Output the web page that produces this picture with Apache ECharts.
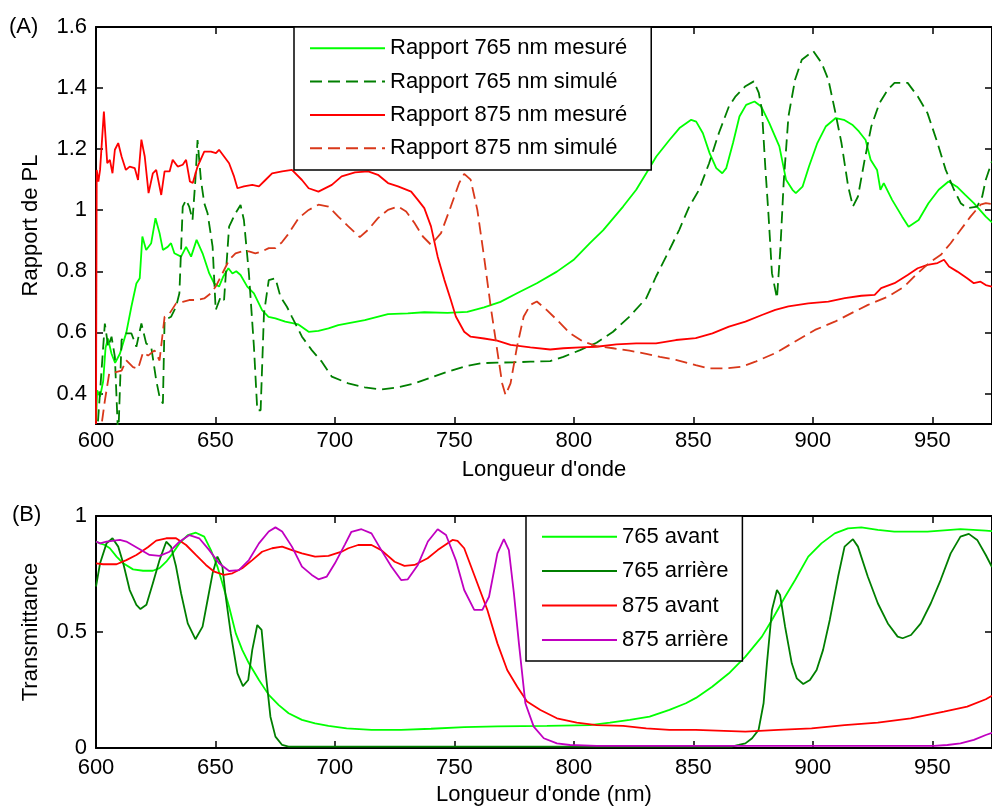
<!DOCTYPE html>
<html><head><meta charset="utf-8">
<script src="https://cdn.jsdelivr.net/npm/echarts@6/dist/echarts.min.js"></script>
<style>html,body{margin:0;padding:0;background:#fff}#c{width:992px;height:810px}</style>
</head><body><div id="c"></div>
<script>
// ---- Tick values ----
const xTicks = [600, 650, 700, 750, 800, 850, 900, 950];
const yTicksA = [0.4, 0.6, 0.8, 1.0, 1.2, 1.4, 1.6];
const yTicksB = [0, 0.5, 1];

// ---- Panel A : rapport de PL  [wavelength nm, value] ----
const r765mes = [[600,0.31],[600.5,0.41],[601.7,0.39],[603,0.44],[604,0.55],[605,0.58],[606.5,0.53],[608,0.5],[610,0.53],[612.7,0.6],[614.8,0.684],[616.9,0.76],[618.3,0.777],[619.4,0.914],[621,0.87],[623.1,0.892],[624.9,0.974],[626.6,0.925],[628,0.87],[630,0.88],[631.4,0.892],[632.8,0.859],[635.6,0.848],[637.7,0.88],[639.8,0.848],[642.1,0.903],[644.6,0.859],[647.4,0.793],[649.5,0.76],[651.5,0.75],[653.2,0.782],[655.4,0.81],[657.1,0.793],[658.7,0.8],[660.5,0.788],[663.3,0.75],[666.1,0.728],[669.5,0.673],[672.2,0.651],[675.1,0.646],[679.2,0.635],[684.7,0.626],[689,0.602],[693.1,0.605],[697.3,0.613],[701.4,0.624],[712.5,0.64],[722.2,0.66],[730.5,0.662],[737.4,0.666],[747.1,0.664],[755.4,0.667],[762.4,0.682],[769.3,0.7],[776.2,0.728],[784.5,0.761],[792.9,0.799],[799.8,0.837],[806.7,0.892],[812.3,0.935],[820.6,1.012],[826.1,1.067],[830.3,1.121],[834.5,1.176],[840,1.23],[844.2,1.269],[849.1,1.296],[851.2,1.29],[854,1.252],[856.8,1.187],[859.6,1.138],[862.1,1.121],[863.8,1.138],[866.6,1.22],[869.3,1.307],[872.1,1.345],[875.6,1.356],[878.4,1.34],[881.8,1.285],[886,1.209],[888.8,1.1],[891.5,1.067],[892.9,1.056],[895.7,1.077],[898.4,1.143],[901.9,1.22],[905.4,1.274],[909.6,1.302],[913,1.296],[916.5,1.28],[919.3,1.258],[922.1,1.23],[924.2,1.165],[926.9,1.132],[928.3,1.067],[929.7,1.089],[933.2,1.034],[937.4,0.979],[940.1,0.946],[944.3,0.968],[948.4,1.023],[952.7,1.067],[956.8,1.094],[960.3,1.077],[963.8,1.05],[967.4,1.023],[972.4,0.979],[975,0.96]];

const r765sim = [[600.3,0.25],[603.7,0.629],[605.1,0.553],[606.5,0.586],[607.9,0.52],[609.3,0.25],[610.7,0.575],[612.7,0.597],[614.8,0.597],[616.9,0.553],[619,0.629],[621,0.564],[623.1,0.553],[625.2,0.443],[626.6,0.389],[628,0.367],[628.7,0.64],[631.4,0.651],[633.5,0.684],[634.9,0.728],[636.3,1.012],[637.7,1.034],[639,1.012],[640.4,0.968],[641.6,1.1],[642.5,1.23],[643.9,1.1],[645.3,1.023],[646.7,0.99],[648.8,0.881],[650.1,0.673],[652.2,0.717],[653.6,0.706],[655.7,0.946],[657,0.968],[658.4,0.99],[660.5,1.017],[661.9,0.968],[664,0.793],[666.1,0.553],[667.5,0.345],[668.9,0.345],[670.3,0.662],[672.3,0.771],[675.1,0.777],[677.2,0.717],[679.9,0.684],[682,0.651],[686.2,0.586],[690.3,0.542],[694.5,0.504],[698.7,0.455],[705.6,0.433],[712.5,0.42],[719.4,0.413],[726.4,0.42],[733.3,0.433],[740.2,0.452],[747.1,0.471],[754.1,0.488],[761,0.499],[767.9,0.501],[774.9,0.502],[781.8,0.504],[790.1,0.506],[795.6,0.52],[802.6,0.542],[809.5,0.566],[816.4,0.602],[823.3,0.652],[830.3,0.712],[834.4,0.783],[840,0.87],[844.1,0.936],[848.3,1.012],[852.4,1.067],[856.6,1.154],[860.7,1.253],[864.9,1.34],[867.7,1.373],[871.8,1.406],[875.3,1.422],[877.4,1.384],[878.7,1.329],[880.1,1.144],[881.5,0.98],[882.9,0.794],[885,0.712],[886.4,0.87],[887.8,1.089],[889.8,1.307],[892.6,1.428],[895.4,1.493],[900.2,1.521],[903.7,1.482],[906.5,1.428],[909.2,1.329],[912,1.22],[914.8,1.078],[916.8,1.012],[918.9,1.045],[921.7,1.165],[924.5,1.275],[927.9,1.351],[931.4,1.395],[934.2,1.417],[939.7,1.417],[943.9,1.373],[948,1.318],[952.2,1.22],[955.6,1.133],[959.1,1.067],[961.9,1.023],[964.6,1.007],[968.8,1.012],[970.9,1.045],[972.4,1.1],[975,1.16]];

const r875mes = [[600,0.3],[600.3,1.132],[601,1.094],[601.7,1.132],[603.3,1.323],[604.7,1.154],[605.8,1.165],[606.9,1.121],[607.9,1.198],[609.3,1.22],[610.7,1.176],[612.5,1.132],[614.1,1.143],[616.2,1.138],[617.6,1.099],[619,1.231],[620.4,1.176],[622,1.056],[623.8,1.121],[625.2,1.132],[627.3,1.05],[628.7,1.127],[630.8,1.127],[632.1,1.165],[634.2,1.143],[636.3,1.149],[637.7,1.165],[639.3,1.094],[640.5,1.089],[642.5,1.143],[645.3,1.192],[648.1,1.192],[650.2,1.187],[651.5,1.198],[653.6,1.176],[655.7,1.154],[657.8,1.11],[659.2,1.072],[661.9,1.078],[665.4,1.083],[668.2,1.078],[670.9,1.099],[673.7,1.121],[677.9,1.127],[682,1.132],[686.2,1.099],[689,1.072],[693.1,1.061],[698.7,1.083],[702.8,1.111],[708.4,1.124],[713.9,1.127],[718,1.116],[722.2,1.089],[726.4,1.078],[731.9,1.061],[734.7,1.034],[737.4,1.007],[740.2,0.947],[743,0.848],[745.8,0.772],[748.5,0.706],[750.6,0.652],[754.1,0.602],[756.8,0.586],[762.4,0.58],[767.9,0.573],[773.5,0.559],[781.8,0.551],[790.1,0.544],[795.6,0.548],[802.6,0.551],[809.5,0.553],[817.8,0.561],[826.1,0.564],[834.4,0.564],[842.7,0.575],[851,0.581],[858,0.597],[864.9,0.619],[871.8,0.635],[878.7,0.657],[884.3,0.674],[889.8,0.685],[898.1,0.695],[906.5,0.701],[913.4,0.712],[920.3,0.72],[925.9,0.723],[928.6,0.745],[934.2,0.761],[939.7,0.788],[943.9,0.81],[948,0.821],[952.2,0.827],[954.9,0.838],[957,0.816],[960.5,0.799],[964.6,0.777],[967.4,0.761],[970.2,0.766],[972.4,0.755],[975,0.75]];

const r875sim = [[601.5,0.25],[603.7,0.376],[605.5,0.464],[608.3,0.47],[610.7,0.475],[612.7,0.508],[615.5,0.486],[617.6,0.481],[619.7,0.535],[621.8,0.524],[624.5,0.541],[626.6,0.508],[628.7,0.651],[630.8,0.662],[633.5,0.695],[636.3,0.7],[639,0.706],[641.8,0.706],[645.3,0.711],[648.1,0.728],[650.1,0.75],[652.9,0.793],[655.7,0.837],[658.4,0.859],[661.2,0.865],[664,0.865],[666.7,0.859],[669.5,0.865],[672.3,0.876],[675.1,0.876],[677.8,0.895],[680.3,0.92],[684.8,0.974],[689,1.001],[693.1,1.018],[697.3,1.012],[701.4,0.979],[705.6,0.947],[710.4,0.912],[713.9,0.936],[718,0.974],[722.2,1.001],[726.4,1.012],[729.8,0.996],[733.3,0.958],[736.8,0.914],[740.2,0.887],[744.4,0.925],[748.5,1.012],[752,1.089],[754.1,1.119],[756.8,1.1],[759.6,1.001],[762.4,0.848],[765.2,0.684],[767.9,0.542],[770,0.433],[771.4,0.395],[773.5,0.433],[776.2,0.553],[779,0.652],[781.8,0.69],[784.5,0.701],[788.7,0.673],[792.9,0.641],[798.4,0.597],[803.9,0.57],[809.5,0.555],[816.4,0.548],[823.3,0.54],[830.3,0.53],[836,0.52],[842.7,0.51],[851,0.493],[856.6,0.482],[863.5,0.482],[870.4,0.488],[876,0.504],[884.3,0.532],[892.6,0.57],[900.9,0.608],[909.2,0.635],[916.2,0.663],[923.1,0.69],[931.4,0.717],[938.3,0.75],[943.9,0.794],[949.4,0.832],[953.6,0.854],[957.7,0.892],[961.9,0.936],[966,0.979],[970.2,1.018],[972.4,1.023],[975,1.02]];

// ---- Panel B : transmittance [wavelength nm, value] ----
const t765av = [[600,0.89],[601.7,0.882],[603.7,0.875],[605.8,0.861],[608.6,0.825],[611.4,0.796],[615.5,0.77],[619.7,0.764],[623.8,0.764],[626.6,0.775],[629.4,0.803],[632.1,0.839],[634.9,0.882],[638.4,0.918],[641.8,0.928],[645.3,0.911],[648.1,0.853],[650.8,0.782],[652.9,0.71],[655.7,0.609],[658.5,0.494],[661.2,0.423],[664,0.365],[668.2,0.293],[672.3,0.229],[676.5,0.185],[680.6,0.15],[686.2,0.121],[691.7,0.106],[697.3,0.095],[704.9,0.085],[715.3,0.078],[727.7,0.078],[740.2,0.083],[754.1,0.09],[768,0.093],[788.7,0.095],[806.8,0.099],[815.1,0.109],[823.4,0.121],[831.7,0.135],[840,0.164],[846.9,0.193],[851.1,0.216],[857.9,0.264],[864.9,0.322],[871.8,0.394],[878.7,0.48],[882.9,0.552],[888.4,0.652],[892.6,0.724],[898.1,0.825],[903.6,0.882],[909.2,0.925],[914.7,0.947],[920.3,0.951],[927.2,0.94],[934.1,0.933],[948,0.933],[961.8,0.943],[972.4,0.937],[975,0.935]];

const t765ar = [[600,0.696],[601.7,0.796],[604.4,0.882],[606.9,0.904],[609.3,0.868],[611.4,0.796],[614.1,0.681],[616.9,0.617],[618.6,0.599],[621.1,0.617],[623.8,0.71],[626.6,0.81],[629.4,0.889],[631.4,0.868],[633.5,0.782],[635.6,0.667],[638.4,0.537],[641.6,0.469],[644.6,0.523],[646.7,0.638],[648.8,0.753],[650.8,0.825],[652.9,0.782],[654.3,0.652],[656.4,0.494],[659.2,0.322],[661.5,0.267],[663.7,0.293],[665.4,0.423],[667.5,0.53],[669.3,0.509],[670.9,0.336],[673,0.135],[675.1,0.049],[677.9,0.013],[680.6,0.006],[866,0.006],[869,0.013],[871.8,0.02],[874.6,0.042],[877.3,0.078],[879.4,0.193],[880.8,0.365],[882.9,0.595],[885,0.681],[886.3,0.66],[888.4,0.523],[891.2,0.365],[893.3,0.3],[896,0.276],[898.8,0.293],[901.6,0.336],[904.3,0.423],[907.1,0.552],[910.6,0.739],[913.3,0.868],[916.8,0.9],[918.9,0.868],[923,0.739],[927.2,0.624],[931.4,0.537],[935.5,0.48],[937.6,0.473],[941.1,0.487],[945.2,0.537],[949.4,0.624],[953.5,0.724],[957.7,0.839],[961.8,0.911],[965.3,0.923],[968.8,0.897],[972.4,0.832],[975,0.78]];

const t875av = [[600,0.796],[603,0.792],[608.6,0.792],[612.7,0.81],[616.9,0.832],[621.7,0.865],[625.2,0.894],[629.4,0.904],[633.5,0.904],[637.7,0.875],[641.8,0.832],[646,0.789],[649.5,0.76],[653.6,0.746],[657.1,0.753],[661.2,0.775],[665.4,0.81],[669.5,0.846],[673.7,0.861],[677.9,0.868],[682,0.853],[686.2,0.839],[691.7,0.825],[697.3,0.828],[702.8,0.846],[705.6,0.861],[709.7,0.875],[715.3,0.875],[719.4,0.853],[725,0.803],[729.1,0.785],[733.3,0.789],[738.8,0.818],[743,0.853],[749.2,0.897],[751.3,0.893],[754.1,0.861],[759.6,0.71],[763.8,0.595],[768,0.451],[772.1,0.336],[776.3,0.264],[780.4,0.2],[786,0.164],[792.9,0.128],[801.2,0.109],[809.5,0.099],[820.6,0.095],[830.3,0.085],[840,0.078],[851,0.078],[871.8,0.071],[885.6,0.078],[899.5,0.085],[913.3,0.099],[927.2,0.109],[941,0.128],[954.9,0.157],[964.6,0.178],[972.4,0.21],[975,0.225]];

const t875ar = [[600,0.89],[601.7,0.882],[604.4,0.89],[610,0.897],[612.7,0.89],[618.3,0.857],[622.4,0.832],[626.6,0.828],[630.8,0.846],[634.9,0.889],[639.1,0.918],[643.2,0.904],[647.4,0.853],[651.5,0.796],[655.7,0.763],[659.8,0.767],[664,0.81],[668.2,0.882],[672.3,0.933],[675.1,0.951],[677.9,0.933],[682,0.868],[686.2,0.782],[690.3,0.746],[693.1,0.727],[696.6,0.739],[700,0.796],[704.2,0.878],[706.9,0.932],[711.1,0.943],[715.3,0.925],[719.4,0.853],[723.6,0.782],[727.7,0.724],[730.5,0.727],[734.7,0.789],[738.9,0.89],[743,0.943],[746.5,0.918],[750.6,0.81],[754.1,0.681],[758.3,0.595],[761.7,0.595],[764.5,0.652],[768,0.839],[770.7,0.9],[772.8,0.853],[774.9,0.667],[777,0.451],[779.7,0.193],[783.2,0.092],[787.4,0.042],[792.9,0.02],[798.4,0.013],[809.5,0.009],[950.8,0.009],[956.3,0.013],[961.8,0.02],[967.4,0.035],[972.4,0.056],[975,0.065]];

// ---- styling ----
const FONT = '"Liberation Sans", Arial, Helvetica, sans-serif';
const FS = 22;
const C_LG = '#00ff00', C_DG = '#007f00', C_RED = '#ff0000', C_ORG = '#d9381a', C_MAG = '#c000c0';
const LW = 1.8;
const DASH = [12, 6];

function xAxisDef(grid, pos, name, margin, gap) {
  const main = pos === 'bottom';
  return {
    type: 'value', gridIndex: grid, position: pos, min: 600, max: 975, interval: 50,
    axisLine: { show: true, onZero: false, lineStyle: { color: '#000', width: 2 } },
    axisTick: { show: true, inside: true, length: 7, customValues: xTicks, lineStyle: { color: '#000', width: 1.5 } },
    axisLabel: { show: main, customValues: xTicks, margin: margin, color: '#000', fontSize: FS, fontFamily: FONT },
    splitLine: { show: false },
    name: main ? name : '', nameLocation: 'middle', nameGap: gap,
    nameTextStyle: { color: '#000', fontSize: FS, fontFamily: FONT }
  };
}
function yAxisDef(grid, pos, name, min, max, ticks) {
  const main = pos === 'left';
  return {
    type: 'value', gridIndex: grid, position: pos, min: min, max: max,
    axisLine: { show: true, onZero: false, lineStyle: { color: '#000', width: 2 } },
    axisTick: { show: true, inside: true, length: 7, customValues: ticks, lineStyle: { color: '#000', width: 1.5 } },
    axisLabel: { show: main, customValues: ticks, margin: 9, color: '#000', fontSize: FS, fontFamily: FONT,
      formatter: v => String(Math.round(v * 10) / 10) },
    splitLine: { show: false },
    name: main ? name : '', nameLocation: 'middle', nameGap: 54, nameRotate: 90,
    nameTextStyle: { color: '#000', fontSize: FS, fontFamily: FONT }
  };
}
function line(name, data, xi, yi, color, dashed) {
  return {
    type: 'line', name: name, data: data, xAxisIndex: xi, yAxisIndex: yi,
    showSymbol: false, symbol: 'none', smooth: false, animation: false, clip: true,
    lineStyle: { color: color, width: LW, type: dashed ? DASH : 'solid' },
    itemStyle: { color: color }
  };
}

const legendText = { color: '#000', fontSize: FS, fontFamily: FONT, lineHeight: 22 };

const option = {
  backgroundColor: '#fff',
  animation: false,
  grid: [
    { left: 96, top: 27, width: 901.5, height: 397 },
    { left: 96, top: 516, width: 901.5, height: 232 }
  ],
  xAxis: [
    xAxisDef(0, 'bottom', "Longueur d'onde", 6, 35),
    xAxisDef(0, 'top', '', 6, 35),
    xAxisDef(1, 'bottom', "Longueur d'onde (nm)", 9, 36),
    xAxisDef(1, 'top', '', 9, 36)
  ],
  yAxis: [
    yAxisDef(0, 'left', 'Rapport de PL', 0.3, 1.6, yTicksA),
    yAxisDef(0, 'right', '', 0.3, 1.6, yTicksA),
    yAxisDef(1, 'left', 'Transmittance', 0, 1, yTicksB),
    yAxisDef(1, 'right', '', 0, 1, yTicksB)
  ],
  legend: [
    {
      data: ['Rapport 765 nm mesuré', 'Rapport 765 nm simulé', 'Rapport 875 nm mesuré', 'Rapport 875 nm simulé'],
      orient: 'vertical', left: 294, top: 27, itemWidth: 75, itemHeight: 14, itemGap: 11.3,
      padding: [10.3, 24, 10.7, 15], borderColor: '#000', borderWidth: 1.5, backgroundColor: '#fff',
      selectedMode: false, textStyle: legendText, itemStyle: { opacity: 0 }
    },
    {
      data: ['765 avant', '765 arrière', '875 avant', '875 arrière'],
      orient: 'vertical', left: 526, top: 516, itemWidth: 75, itemHeight: 14, itemGap: 12.4,
      padding: [9.7, 14, 10, 15], borderColor: '#000', borderWidth: 1.5, backgroundColor: '#fff',
      selectedMode: false, textStyle: legendText, itemStyle: { opacity: 0 }
    }
  ],
  graphic: [
    { type: 'text', left: 9, top: 16, style: { text: '(A)', fill: '#000', fontSize: FS, fontFamily: FONT } },
    { type: 'text', left: 12, top: 504, style: { text: '(B)', fill: '#000', fontSize: FS, fontFamily: FONT } }
  ],
  series: [
    line('Rapport 765 nm mesuré', r765mes, 0, 0, C_LG, false),
    line('Rapport 765 nm simulé', r765sim, 0, 0, C_DG, true),
    line('Rapport 875 nm mesuré', r875mes, 0, 0, C_RED, false),
    line('Rapport 875 nm simulé', r875sim, 0, 0, C_ORG, true),
    line('765 avant', t765av, 2, 2, C_LG, false),
    line('765 arrière', t765ar, 2, 2, C_DG, false),
    line('875 avant', t875av, 2, 2, C_RED, false),
    line('875 arrière', t875ar, 2, 2, C_MAG, false)
  ]
};
const chart = echarts.init(document.getElementById('c'));
chart.setOption(option);
</script></body></html>
